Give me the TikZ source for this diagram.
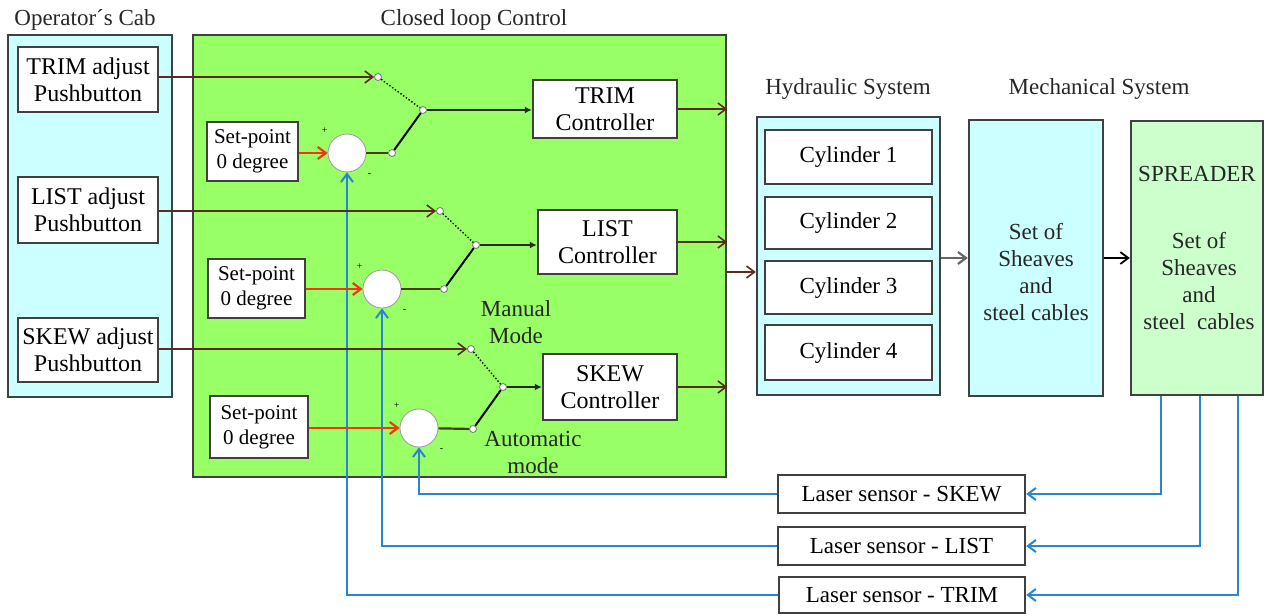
\documentclass[tikz,border=0pt]{standalone}
\usepackage{fontspec}
\setmainfont{Liberation Serif}
\usetikzlibrary{arrows.meta}

\definecolor{cabcyan}{HTML}{CCFFFF}
\definecolor{loopgreen}{HTML}{99FF66}
\definecolor{spreadgreen}{HTML}{CCFFCC}
\definecolor{sigbrown}{HTML}{5C2A22}
\definecolor{errolive}{HTML}{4A3A18}
\definecolor{fbblue}{HTML}{2A85D0}
\definecolor{spred}{HTML}{F2380F}

\begin{document}
\begin{tikzpicture}[x=0.5pt,y=-0.5pt,
  font=\fontsize{11.5}{13.5}\selectfont,
  panel/.style={draw=black!75, line width=1.2pt, inner sep=0pt},
  blk/.style={draw=black!75, fill=white, line width=1.2pt, align=center, inner sep=0pt},
  bigtxt/.style={font=\fontsize{12}{13.5}\selectfont},
  sptxt/.style={font=\fontsize{10.5}{12.5}\selectfont},
  summer/.style={circle, draw=black!40, fill=white, minimum size=19pt, inner sep=0pt,
    label={[font=\tiny, label distance=-1pt]135:+}, label={[font=\tiny, label distance=0pt]-45:-}},
  pin/.style={circle, draw=black!55, fill=white, minimum size=3.5pt, inner sep=0pt},
  barb/.style={-{Straight Barb[length=4pt,width=6pt]}},
  sig/.style={barb, sigbrown, line width=0.8pt},
  spline/.style={barb, spred, line width=1.1pt},
  errline/.style={errolive, line width=1.1pt},
  selline/.style={-{Latex[length=3.5pt,width=3.5pt]}, black!85, line width=1.1pt},
  fb/.style={barb, fbblue, line width=1pt},
  ttl/.style={text=black!85}]
\useasboundingbox (0,0) rectangle (1267,615);

% panels
\node [panel, fill=cabcyan, minimum width=82pt, minimum height=181pt] (cab) at (90,216) {};
\node [panel, fill=loopgreen, minimum width=266.5pt, minimum height=221pt] (ctrl) at (459.5,256) {};
\node [panel, fill=cabcyan, minimum width=91.5pt, minimum height=139pt] (hyd) at (848.5,256) {};
\node [panel, fill=cabcyan, minimum width=67pt, minimum height=138pt] (mech) at (1036,258) {};
\node [panel, fill=spreadgreen, minimum width=66pt, minimum height=137pt] (spr) at (1197,258) {};

\node [ttl] (cabttl) at (85,20) {Operator´s Cab};
\node [ttl] (ctrlttl) at (474,20) {Closed loop Control};
\node [ttl] (hydttl) at (848,89) {Hydraulic System};
\node [ttl] (mechttl) at (1099,89) {Mechanical System};

% operator pushbuttons
\node [blk, bigtxt, minimum width=70pt, minimum height=32.5pt] (trimadj) at (88,79.5) {TRIM adjust\\Pushbutton};
\node [blk, bigtxt, minimum width=70pt, minimum height=33pt] (listadj) at (88,210) {LIST adjust\\Pushbutton};
\node [blk, bigtxt, minimum width=70pt, minimum height=32pt] (skewadj) at (88,350) {SKEW adjust\\Pushbutton};

% set-points and summing points
\node [blk, sptxt, minimum width=45.5pt, minimum height=29.5pt] (sp1) at (252.5,151.5) {Set-point\\0 degree};
\node [blk, sptxt, minimum width=48.5pt, minimum height=29.5pt] (sp2) at (256.5,288.5) {Set-point\\0 degree};
\node [blk, sptxt, minimum width=49pt, minimum height=31pt] (sp3) at (259,427) {Set-point\\0 degree};
\node [summer] (sum1) at (347,153) {};
\node [summer] (sum2) at (382,289) {};
\node [summer] (sum3) at (419,428) {};

% controllers
\node [blk, bigtxt, minimum width=72pt, minimum height=29pt] (trimc) at (605,109) {TRIM\\Controller};
\node [blk, bigtxt, minimum width=69.5pt, minimum height=32pt] (listc) at (607.5,242) {LIST\\Controller};
\node [blk, bigtxt, minimum width=67pt, minimum height=33pt] (skewc) at (610,387) {SKEW\\Controller};

\node [ttl, align=center] (manlbl) at (516,322) {Manual\\Mode};
\node [ttl, align=center] (autolbl) at (533,452) {Automatic\\mode};

% hydraulics and mechanics
\node [blk, minimum width=83.5pt, minimum height=27pt] (cyl1) at (848.5,157) {Cylinder 1};
\node [blk, minimum width=83.5pt, minimum height=26pt] (cyl2) at (848.5,223) {Cylinder 2};
\node [blk, minimum width=83.5pt, minimum height=26.5pt] (cyl3) at (848.5,287.5) {Cylinder 3};
\node [blk, minimum width=83.5pt, minimum height=27.5pt] (cyl4) at (848.5,352.5) {Cylinder 4};
\node [ttl, align=center] (mechtxt) at (1036,272) {Set of\\Sheaves\\and\\steel cables};
\node [ttl] (sprttl) at (1197,174) {SPREADER};
\node [ttl, align=center] (sprtxt) at (1199,281) {Set of\\Sheaves\\and\\steel\ \ cables};

% laser sensors
\node [blk, minimum width=123.5pt, minimum height=19pt] (skews) at (901.5,494) {Laser sensor - SKEW};
\node [blk, minimum width=123.5pt, minimum height=19pt] (lists) at (901.5,546) {Laser sensor - LIST};
\node [blk, minimum width=123pt, minimum height=18pt] (trims) at (902,595) {Laser sensor - TRIM};

% feedback from the spreader
\draw [fb] ([xshift=-18pt]spr.south) |- (skews.east);
\draw [fb] ([xshift=1.5pt]spr.south) |- (lists.east);
\draw [fb] ([xshift=20.5pt]spr.south) |- (trims.east);
\draw [fb] (skews.west) -| (sum3.south);
\draw [fb] (lists.west) -| (sum2.south);
\draw [fb] (trims.west) -| (sum1.south);

% mode switches
\node [pin] (sw1a) at (378,77) {};
\node [pin] (sw1c) at (423,110) {};
\node [pin] (sw1b) at (392,153) {};
\node [pin] (sw2a) at (440,211) {};
\node [pin] (sw2c) at (476,245) {};
\node [pin] (sw2b) at (444,289) {};
\node [pin] (sw3a) at (471,349) {};
\node [pin] (sw3c) at (503,387) {};
\node [pin] (sw3b) at (473,429) {};

\draw [sig] (trimadj.east |- sw1a) -- (sw1a);
\draw [sig] (listadj.east |- sw2a) -- (sw2a);
\draw [sig] (skewadj.east |- sw3a) -- (sw3a);
\draw [spline] (sp1.east |- sum1) -- (sum1.west);
\draw [spline] (sp2.east |- sum2) -- (sum2.west);
\draw [spline] (sp3.east |- sum3) -- (sum3.west);
\draw [errline] (sum1) -- (sw1b);
\draw [errline] (sum2) -- (sw2b);
\draw [errline] (sum3) -- (sw3b);
\draw [densely dotted, line width=0.7pt] (sw1a) -- (sw1c);
\draw [densely dotted, line width=0.7pt] (sw2a) -- (sw2c);
\draw [densely dotted, line width=0.7pt] (sw3a) -- (sw3c);
\draw [line width=1pt] (sw1b) -- (sw1c);
\draw [line width=1pt] (sw2b) -- (sw2c);
\draw [line width=1pt] (sw3b) -- (sw3c);
\draw [selline] (sw1c) -- (sw1c -| trimc.west);
\draw [selline] (sw2c) -- (sw2c -| listc.west);
\draw [selline] (sw3c) -- (sw3c -| skewc.west);

% controller outputs and plant chain
\draw [sig] (trimc.east) -- (trimc.east -| ctrl.east);
\draw [sig] (listc.east) -- (listc.east -| ctrl.east);
\draw [sig] (skewc.east) -- (skewc.east -| ctrl.east);
\draw [sig] ([yshift=-8pt]ctrl.east) -- ([yshift=-8pt]ctrl.east -| hyd.west);
\draw [barb, black!60, line width=1.1pt] (hyd.east |- mech) -- (mech.west);
\draw [barb, black, line width=0.9pt] (mech) -- (spr);
\end{tikzpicture}
\end{document}
